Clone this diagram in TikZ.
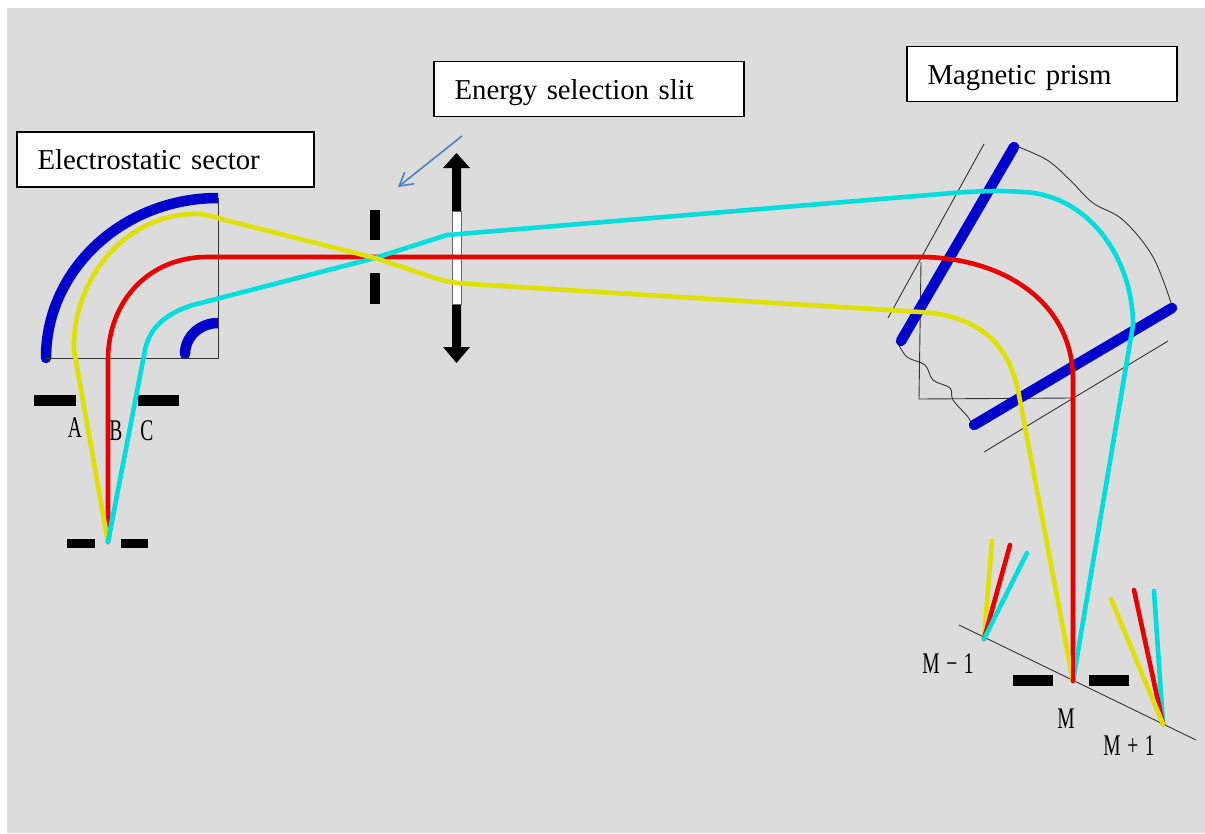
\documentclass[tikz,border=0pt]{standalone}
\usepackage{fontspec}
\setmainfont[WordSpace=0.8]{Liberation Serif}
\usepackage{xcolor}
\usepackage{tikz}
\usetikzlibrary{arrows.meta}
\definecolor{panelgray}{HTML}{DCDCDC}
\definecolor{platecol}{HTML}{0000CC}
\definecolor{rayred}{HTML}{E60000}
\definecolor{rayyellow}{HTML}{E0E000}
\definecolor{raycyan}{HTML}{00DDDD}
\definecolor{notecol}{HTML}{4F81BD}

\begin{document}
\begin{tikzpicture}[
    x=1pt,y=-1pt,
    labelbox/.style={draw,fill=white,line width=1.3pt,minimum height=55pt,inner xsep=20.5pt,text height=22.5pt,text depth=2pt,align=left,font=\fontsize{28.8}{32}\selectfont},
    tag/.style={xscale=0.65,inner sep=0pt,font=\fontsize{30}{30}\selectfont},
    plate/.style={draw=platecol,line width=10.5pt},
    ray/.style={line width=4.6pt,line join=round,line cap=round},
    thin line/.style={draw=black!80,line width=0.9pt},
    slit/.style={fill=black}
  ]
    \useasboundingbox (0,0) rectangle (1205,833);
    \fill[panelgray] (7,8) rectangle (1205,833);

    % points where the beams meet
    \coordinate (source) at (108,542);
    \coordinate (cross) at (375,258);
    \coordinate (imgM) at (1073,681);
    \coordinate (imgLow) at (984,639);
    \coordinate (imgHigh) at (1163,724);
    \coordinate (noteA) at (462,136);
    \coordinate (noteB) at (398,187);

    \node[labelbox,text width=256pt] (sectorlabel) at (165.5,159.5) {Electrostatic sector};
    \node[labelbox,text width=269pt] (slitlabel) at (589,89) {Energy selection slit};
    \node[labelbox,text width=229pt] (prismlabel) at (1042,74) {Magnetic prism};

    % electrostatic sector
    \begin{scope}
      \clip (0,150) rectangle (218,420);
      \draw[plate,line cap=round] (46,358) arc[start angle=180,end angle=270,x radius=172,y radius=160];
      \draw[plate,line cap=round] (185,354) arc[start angle=180,end angle=270,x radius=33,y radius=31];
    \end{scope}
    \draw[thin line] (218,198) -- (218,358) -- (46,358);
    \fill[slit] (34,395) rectangle (76,406);
    \fill[slit] (138,395) rectangle (179,406);
    \fill[slit] (67,539) rectangle (95,548);
    \fill[slit] (121,539) rectangle (148,548);

    % slit and lens
    \fill[slit] (370,210) rectangle (380,240);
    \fill[slit] (370,273) rectangle (380,304);
    \fill[black] (456.5,153) -- (470,168) -- (461,168) -- (461,347) -- (470,347) -- (456.5,363) -- (443,347) -- (452,347) -- (452,168) -- (443,168) -- cycle;
    \draw[fill=white,draw=black!60,line width=0.8pt] (452,211) rectangle (461,304);
    \draw[notecol,line width=1.6pt,-{Straight Barb[length=13pt,width=15pt]}] (noteA) -- (noteB);

    % magnetic prism
    \draw[thin line] (984,144) -- (888,318);
    \draw[thin line] (1168,341) -- (984,452);
    \draw[thin line] (921,262) -- (919,399) -- (1072,398);
    \draw[thin line] plot[smooth,tension=.6] coordinates {(1016,146) (1047,160) (1070,180) (1093,203) (1123,220) (1153,257) (1172,306)};
    \draw[thin line] plot[smooth,tension=.6] coordinates {(898,343) (907,357) (925,365) (933,380) (950,388) (953,400) (968,417) (971,424)};
    \draw[plate,line cap=round] (1014,147) -- (901,341);
    \draw[plate,line cap=round] (1172,308) -- (974,425);

    % detector plane
    \draw[thin line] (959,625) -- (1196,740);
    \fill[slit] (1013,675) rectangle (1053,686);
    \fill[slit] (1089,675) rectangle (1129,686);

    % beams
    \draw[ray,rayred] (source) -- (108,360) .. controls (108,300) and (150,257) .. (207,257) -- (920,257) .. controls (1000,257) and (1073,300) .. (1073,380) -- (imgM);
    \draw[ray,raycyan] (source) -- (145,350) .. controls (150,325) and (170,312) .. (193,305) -- (cross) -- (447,235) -- (953,193) .. controls (990,190) and (1010,191) .. (1023,192) .. controls (1090,195) and (1133,260) .. (1133,325) -- (imgM);
    \draw[ray,rayyellow] (source) -- (74,350) .. controls (72,280) and (125,214) .. (195,214) .. controls (205,214) and (212,216) .. (225,220) -- (cross) -- (420,273) .. controls (440,280) and (450,283) .. (470,284) -- (920,312) .. controls (990,316) and (1010,355) .. (1018,390) -- (imgM);
    \draw[ray,raycyan] (source) -- (113,514);
    \draw[ray,rayred] (1073,620) -- (imgM);

    % side images
    \draw[ray,rayyellow] (imgLow) -- (992,541);
    \draw[ray,rayred] (imgLow) -- (1010,545);
    \draw[ray,raycyan] (imgLow) -- (1027,553);
    \draw[ray,raycyan] (imgHigh) -- (1154,591);
    \draw[ray,rayred] (imgHigh) -- (1134,590);
    \draw[ray,rayyellow] (imgHigh) -- (1111,599);

    \node[tag] (tagA) at (75,428) {A};
    \node[tag] (tagB) at (116,431) {B};
    \node[tag] (tagC) at (147,431) {C};
    \node[tag] (tagLow) at (948,664) {M\kern10pt−\kern10pt1};
    \node[tag] (tagM) at (1066,719) {M};
    \node[tag] (tagHigh) at (1129,746) {M\kern10pt+\kern10pt1};
  \end{tikzpicture}
\end{document}
